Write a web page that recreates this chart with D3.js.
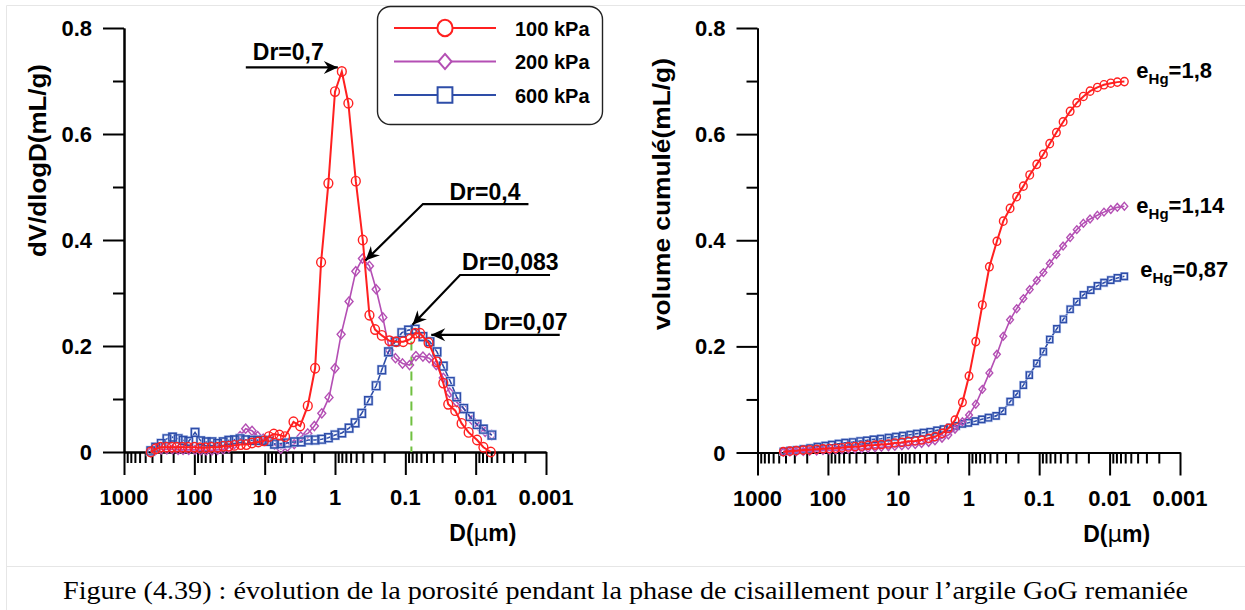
<!DOCTYPE html>
<html>
<head>
<meta charset="utf-8">
<script src="https://cdn.jsdelivr.net/npm/d3@7"></script>
<style>
body { margin: 0; background: #fff; }
svg { font-family: Arial, "Liberation Sans", sans-serif; }
</style>
</head>
<body>
<svg id="canvas" width="1245" height="610"></svg>
<script>
// series and labels
var seriesNames = ["100 kPa", "200 kPa", "600 kPa"];
var seriesColors = ["#ff2020", "#b44fb4", "#2e4da8"];
var xTickValues = [1000, 100, 10, 1, 0.1, 0.01, 0.001];
var xTickLabels = ["1000", "100", "10", "1", "0.1", "0.01", "0.001"];
var yTickValues = [0, 0.2, 0.4, 0.6, 0.8];
var yTickLabels = ["0", "0.2", "0.4", "0.6", "0.8"];
var yMinorValues = [0.1, 0.3, 0.5, 0.7];
var eHgLabels = ["1,8", "1,14", "0,87"];

// left chart : dV/dlogD (mL/g), diameters read as log10(D in µm)
var logD_100 = [2.62,2.55,2.48,2.40,2.32,2.25,2.17,2.09,2.00,1.92,1.84,1.76,1.67,1.59,1.51,1.43,1.34,1.26,1.18,1.09,
	1.01,0.94,0.87,0.79,0.71,0.59,0.496,0.387,0.283,0.198,0.094,0.0,-0.097,-0.19,-0.296,-0.395,-0.49,-0.57,-0.665,-0.774,
	-0.87,-0.97,-1.07,-1.14,-1.21,-1.33,-1.45,-1.54,-1.61,-1.71,-1.80,-1.90,-2.02,-2.11,-2.215];
var dv_100 = [0,0.006,0.009,0.009,0.009,0.009,0.009,0.009,0.009,0.008,0.008,0.009,0.009,0.011,0.011,0.0125,0.014,0.014,0.017,0.019,
	0.021,0.029,0.034,0.032,0.029,0.057,0.049,0.087,0.158,0.358,0.507,0.68,0.718,0.658,0.511,0.40,0.258,0.231,0.22,0.21,
	0.208,0.208,0.213,0.224,0.224,0.206,0.17,0.13,0.09,0.078,0.054,0.037,0.0226,0.009,0];

var logD_200 = [2.62,2.55,2.47,2.39,2.31,2.23,2.16,2.08,1.99,1.91,1.83,1.75,1.67,1.59,1.51,1.43,1.35,1.27,1.18,1.10,
	1.02,0.94,0.86,0.77,0.677,0.58,0.487,0.387,0.293,0.188,0.085,0.0,-0.087,-0.20,-0.296,-0.39,-0.49,-0.585,-0.68,-0.775,
	-0.86,-0.96,-1.06,-1.15,-1.25,-1.34,-1.44,-1.54,-1.63,-1.73,-1.83,-1.95,-2.05,-2.135,-2.23];
var dv_200 = [0,0.004,0.005,0.005,0.005,0.004,0.004,0.004,0.004,0.003,0.003,0.003,0.004,0.005,0.008,0.015,0.030,0.044,0.040,0.030,
	0.025,0.022,0.014,0.006,0.010,0.015,0.029,0.035,0.049,0.073,0.103,0.158,0.222,0.284,0.341,0.365,0.351,0.307,0.254,0.192,
	0.177,0.167,0.164,0.181,0.180,0.177,0.164,0.140,0.112,0.094,0.082,0.060,0.048,0.038,0.032];

var logD_600 = [2.62,2.55,2.47,2.39,2.31,2.23,2.16,2.08,1.99,1.91,1.83,1.75,1.67,1.59,1.51,1.43,1.35,1.27,1.18,1.10,
	1.02,0.94,0.86,0.77,0.68,0.58,0.48,0.38,0.283,0.19,0.094,0.0,-0.097,-0.20,-0.286,-0.38,-0.475,-0.585,-0.666,-0.76,
	-0.855,-0.95,-1.045,-1.14,-1.25,-1.35,-1.45,-1.54,-1.64,-1.73,-1.83,-1.92,-2.02,-2.11,-2.23];
var dv_600 = [0.002,0.009,0.016,0.025,0.028,0.025,0.022,0.020,0.037,0.021,0.019,0.019,0.016,0.019,0.022,0.023,0.025,0.023,0.022,0.022,
	0.022,0.020,0.015,0.016,0.017,0.019,0.019,0.0226,0.0226,0.024,0.027,0.032,0.036,0.045,0.055,0.073,0.097,0.125,0.155,0.189,
	0.208,0.225,0.230,0.2315,0.2176,0.208,0.189,0.162,0.133,0.104,0.082,0.067,0.052,0.043,0.032];

// right chart : cumulated volume (mL/g)
var logDc_100 = [2.633,2.54,2.45,2.35,2.26,2.16,2.07,1.98,1.89,1.80,1.71,1.615,1.52,1.43,1.33,1.24,1.14,1.05,0.95,0.86,
	0.76,0.67,0.57,0.48,0.38,0.29,0.195,0.09,-0.004,-0.10,-0.193,-0.293,-0.40,-0.49,-0.587,-0.68,-0.776,-0.866,-0.966,-1.06,
	-1.15,-1.245,-1.34,-1.44,-1.534,-1.628,-1.723,-1.827,-1.92,-2.017,-2.11,-2.21];
var vc_100 = [0.0016,0.0025,0.0035,0.0045,0.005,0.006,0.007,0.0075,0.008,0.009,0.0105,0.011,0.012,0.0135,0.014,0.015,0.016,0.018,0.019,0.021,
	0.0217,0.0235,0.0267,0.030,0.036,0.0455,0.061,0.0945,0.144,0.209,0.278,0.35,0.398,0.436,0.46,0.482,0.502,0.523,0.543,0.562,
	0.582,0.603,0.623,0.643,0.659,0.671,0.681,0.688,0.693,0.696,0.698,0.699];

var logDc_200 = logDc_100;
var vc_200 = [0.0005,0.001,0.0015,0.002,0.0025,0.003,0.0035,0.004,0.0045,0.005,0.006,0.0065,0.007,0.008,0.009,0.010,0.011,0.0115,0.0125,0.0135,
	0.015,0.017,0.019,0.022,0.027,0.033,0.044,0.058,0.0706,0.091,0.119,0.150,0.185,0.219,0.25,0.271,0.29,0.307,0.324,0.339,
	0.356,0.373,0.389,0.405,0.42,0.432,0.44,0.447,0.453,0.458,0.462,0.464];

var logDc_600 = [2.633,2.538,2.444,2.349,2.254,2.15,2.04,1.946,1.85,1.757,1.648,1.544,1.449,1.354,1.25,1.14,1.036,0.937,0.833,0.738,
	0.643,0.548,0.453,0.359,0.264,0.178,0.09,0.005,-0.09,-0.185,-0.28,-0.388,-0.48,-0.587,-0.68,-0.776,-0.86,-0.966,-1.06,-1.15,
	-1.25,-1.344,-1.44,-1.534,-1.628,-1.733,-1.827,-1.92,-2.017,-2.11,-2.21];
var vc_600 = [0.0016,0.0034,0.0047,0.0066,0.0085,0.011,0.0129,0.0147,0.0166,0.0185,0.0198,0.0217,0.0229,0.0248,0.026,0.028,0.0298,0.0317,0.0336,0.0355,
	0.0373,0.039,0.0417,0.044,0.047,0.050,0.054,0.056,0.059,0.0625,0.0656,0.069,0.078,0.0957,0.11,0.127,0.146,0.168,0.19,0.213,
	0.233,0.251,0.27,0.284,0.297,0.306,0.314,0.32,0.325,0.329,0.332];

var caption = "Figure (4.39) : évolution de la porosité pendant la phase de cisaillement pour l’argile GoG remaniée";

var svg = d3.select("#canvas");

function toPoints(logs, vals) {
	var pts = [];
	for (var i = 0; i < logs.length; i++)
		pts.push({ D: Math.pow(10, logs[i]), v: vals[i] });
	return pts;
}

function markerPath(shape, s) {
	if (shape == "circle")
		return "M" + (-s) + ",0A" + s + "," + (s * 1.08) + " 0 1,0 " + s + ",0A" + s + "," + (s * 1.08) + " 0 1,0 " + (-s) + ",0Z";
	if (shape == "diamond")
		return "M0," + (-s * 1.15) + "L" + s + ",0L0," + (s * 1.15) + "L" + (-s) + ",0Z";
	return "M" + (-s) + "," + (-s * 1.05) + "H" + s + "V" + (s * 1.05) + "H" + (-s) + "Z";
}

function drawAxes(g, x, y) {
	var minors = [];
	for (var k = -3; k < 3; k++)
		for (var m = 2; m <= 9; m++)
			minors.push(+(m * Math.pow(10, k)).toPrecision(3));

	var y0 = y(0), x0 = x(1000);
	g.append("g").attr("class", "axis").attr("transform", "translate(0," + y0 + ")")
		.call(d3.axisBottom(x).tickValues(minors).tickSize(11).tickSizeOuter(0).tickFormat(""));
	g.append("g").attr("class", "axis").attr("transform", "translate(0," + y0 + ")")
		.call(d3.axisBottom(x).tickValues(xTickValues).tickSize(23).tickSizeOuter(0).tickFormat(""));
	g.append("g").attr("class", "axis").attr("transform", "translate(" + x0 + ",0)")
		.call(d3.axisLeft(y).tickValues(yMinorValues).tickSize(11).tickSizeOuter(0).tickFormat(""));
	g.append("g").attr("class", "axis").attr("transform", "translate(" + x0 + ",0)")
		.call(d3.axisLeft(y).tickValues(yTickValues).tickSize(21).tickSizeOuter(0).tickFormat(""));

	g.selectAll(".axis path, .axis line").attr("stroke", "#000").attr("stroke-width", 2);

	g.selectAll(".xlab").data(xTickValues).enter().append("text")
		.attr("x", function(d) { return x(d); })
		.attr("y", y0 + 53)
		.attr("text-anchor", "middle")
		.attr("font-size", 22).attr("font-weight", "bold")
		.text(function(d, i) { return xTickLabels[i]; });

	g.selectAll(".ylab").data(yTickValues).enter().append("text")
		.attr("x", x0 - 32)
		.attr("y", function(d) { return y(d) + 8; })
		.attr("text-anchor", "end")
		.attr("font-size", 22).attr("font-weight", "bold")
		.text(function(d, i) { return yTickLabels[i]; });

	var xt = g.append("text")
		.attr("x", x(0.1) + 44).attr("y", y0 + 89)
		.attr("font-size", 23).attr("font-weight", "bold")
		.text("D(");
	xt.append("tspan").attr("font-weight", "normal").attr("font-family", "'DejaVu Sans', sans-serif").attr("font-size", 23).text("μ");
	xt.append("tspan").text("m)");
}

function drawSeries(g, x, y, pts, color, shape, size, lw) {
	var line = d3.line()
		.x(function(d) { return x(d.D); })
		.y(function(d) { return y(d.v); });
	g.append("path")
		.datum(pts)
		.attr("d", line)
		.attr("fill", "none")
		.attr("stroke", color)
		.attr("stroke-width", lw);
	if (shape == "square") {
		g.selectAll(null).data(pts).enter().append("path")
			.attr("d", markerPath(shape, size))
			.attr("transform", function(d) { return "translate(" + x(d.D) + "," + y(d.v) + ")"; })
			.attr("fill", "none").attr("stroke", "#b9c8ee").attr("stroke-width", 2.6);
	}
	g.selectAll(null).data(pts).enter().append("path")
		.attr("d", markerPath(shape, size))
		.attr("transform", function(d) { return "translate(" + x(d.D) + "," + y(d.v) + ")"; })
		.attr("fill", "none")
		.attr("stroke", color)
		.attr("stroke-width", 1.4);
}

function arrowHead(g, from, tip) {
	var a = Math.atan2(tip[1] - from[1], tip[0] - from[0]) * 180 / Math.PI;
	g.append("path")
		.attr("d", "M0,0L-14,-6.5L-9.5,0L-14,6.5Z")
		.attr("transform", "translate(" + tip[0] + "," + tip[1] + ") rotate(" + a + ")")
		.attr("fill", "#000");
}

function annot(g, pts, label, textPos) {
	g.append("path")
		.attr("d", d3.line()(pts))
		.attr("fill", "none").attr("stroke", "#000").attr("stroke-width", 2.2);
	arrowHead(g, pts[pts.length - 2], pts[pts.length - 1]);
	g.append("text")
		.attr("x", textPos[0]).attr("y", textPos[1])
		.attr("font-size", 23).attr("font-weight", "bold")
		.text(label);
}

// page frame
svg.append("rect").attr("width", 1245).attr("height", 610).attr("fill", "#fff");
svg.append("path").attr("d", "M6.5,610V5.5H1245M6,566.5H1245")
	.attr("fill", "none").attr("stroke", "#e6e6e6").attr("stroke-width", 1);

// ---------- left chart ----------
var xL = d3.scaleLog().domain([1000, 0.001]).range([124, 546]);
var yL = d3.scaleLinear().domain([0, 0.8]).range([452, 28]);
var gL = svg.append("g");
drawAxes(gL, xL, yL);

gL.append("text")
	.attr("transform", "translate(46," + yL(0.55) + ") rotate(-90)")
	.attr("text-anchor", "middle")
	.attr("font-size", 23).attr("font-weight", "bold")
	.attr("textLength", 193).attr("lengthAdjust", "spacingAndGlyphs")
	.text("dV/dlogD(mL/g)");

// dashed marker of the 600 kPa mode
gL.append("line")
	.attr("x1", xL(0.082)).attr("x2", xL(0.082))
	.attr("y1", yL(0.237)).attr("y2", yL(0))
	.attr("stroke", "#70c040").attr("stroke-width", 2).attr("stroke-dasharray", "9,6");

drawSeries(gL, xL, yL, toPoints(logD_200, dv_200), seriesColors[1], "diamond", 4, 1.6);
drawSeries(gL, xL, yL, toPoints(logD_600, dv_600), seriesColors[2], "square", 3.7, 1.6);
drawSeries(gL, xL, yL, toPoints(logD_100, dv_100), seriesColors[0], "circle", 4.4, 2);

// annotations
var t1 = [xL(0.8) - 4, yL(0.718) - 4];
annot(gL, [[t1[0] - 92, t1[1]], t1], "Dr=0,7", [t1[0] - 85, t1[1] - 7]);
var t2 = [xL(0.407) + 3, yL(0.365) + 2];
annot(gL, [[t2[0] + 163, t2[1] - 56.5], [t2[0] + 57.5, t2[1] - 56.5], t2], "Dr=0,4", [t2[0] + 84, t2[1] - 60.5]);
var t3 = [xL(0.083) + 1.5, yL(0.24)];
annot(gL, [[t3[0] + 137.5, t3[1] - 49.8], [t3[0] + 47.5, t3[1] - 49.8], t3], "Dr=0,083", [t3[0] + 49.5, t3[1] - 55]);
var t4 = [xL(0.0575) + 9, yL(0.221)];
annot(gL, [[t4[0] + 128.5, t4[1]], t4], "Dr=0,07", [t4[0] + 52.5, t4[1] - 5]);

// legend
var leg = gL.append("g").attr("transform", "translate(377,6)");
leg.append("rect")
	.attr("x", 0.5).attr("y", 0.5).attr("width", 225).attr("height", 118).attr("rx", 13)
	.attr("fill", "#fff").attr("stroke", "#222").attr("stroke-width", 1.4);
var legShapes = ["circle", "diamond", "square"];
var legSizes = [7.6, 6.6, 7.4];
seriesNames.forEach(function(name, i) {
	var ry = 22 + i * 33.5;
	leg.append("line").attr("x1", 17).attr("x2", 119).attr("y1", ry).attr("y2", ry)
		.attr("stroke", seriesColors[i]).attr("stroke-width", 2);
	leg.append("path").attr("d", markerPath(legShapes[i], legSizes[i]))
		.attr("transform", "translate(68," + ry + ")")
		.attr("fill", "#fff").attr("stroke", seriesColors[i]).attr("stroke-width", 2);
	leg.append("text").attr("x", 138).attr("y", ry + 7.5)
		.attr("font-size", 20).attr("font-weight", "bold")
		.text(name);
});

// ---------- right chart ----------
var xR = d3.scaleLog().domain([1000, 0.001]).range([757.5, 1180]);
var yR = d3.scaleLinear().domain([0, 0.8]).range([452.5, 28]);
var gR = svg.append("g");
drawAxes(gR, xR, yR);

gR.append("text")
	.attr("transform", "translate(670," + yR(0.487) + ") rotate(-90)")
	.attr("text-anchor", "middle")
	.attr("font-size", 23).attr("font-weight", "bold")
	.attr("textLength", 272).attr("lengthAdjust", "spacingAndGlyphs")
	.text("volume cumulé(mL/g)");

var cum = [toPoints(logDc_100, vc_100), toPoints(logDc_200, vc_200), toPoints(logDc_600, vc_600)];
drawSeries(gR, xR, yR, cum[2], seriesColors[2], "square", 3, 1.6);
drawSeries(gR, xR, yR, cum[1], seriesColors[1], "diamond", 3.4, 1.6);
drawSeries(gR, xR, yR, cum[0], seriesColors[0], "circle", 3.8, 2);

var eOff = [[12, -4], [12, 7], [16, 1]];
cum.forEach(function(pts, i) {
	var last = pts[pts.length - 1];
	var t = gR.append("text")
		.attr("x", xR(last.D) + eOff[i][0]).attr("y", yR(last.v) + eOff[i][1])
		.attr("font-size", 22).attr("font-weight", "bold");
	t.append("tspan").text("e");
	t.append("tspan").attr("dy", 6).attr("font-size", 15).text("Hg");
	t.append("tspan").attr("dy", -6).text("=" + eHgLabels[i]);
});

// caption
svg.append("text")
	.attr("x", 63).attr("y", 599)
	.attr("font-family", "'Liberation Serif', 'DejaVu Serif', serif")
	.attr("font-size", 25)
	.attr("textLength", 1125).attr("lengthAdjust", "spacingAndGlyphs")
	.text(caption);
</script>
</body>
</html>
